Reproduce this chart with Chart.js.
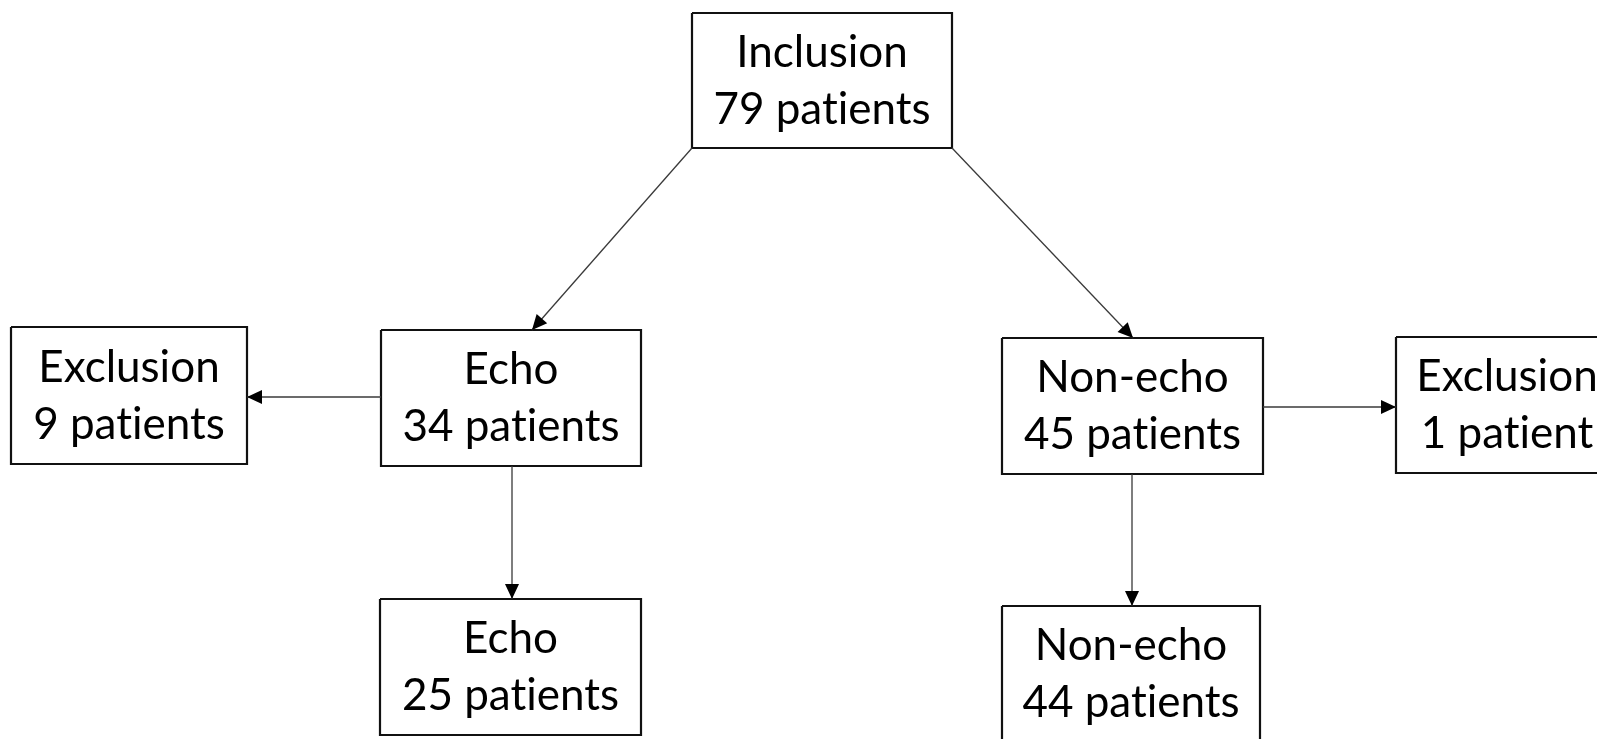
<!DOCTYPE html>
<html>
<head>
<meta charset="utf-8">
<script src="https://cdn.jsdelivr.net/npm/chart.js@4"></script>
<style>
  html, body { margin: 0; padding: 0; background: #fff; }
  #wrap { width: 1597px; height: 739px; position: relative; }
</style>
</head>
<body>
<div id="wrap"><canvas id="flow"></canvas></div>
<script>
// 박스 내용 (flow 단계, 환자 수)
const nodeNames = ['Inclusion', 'Echo', 'Non-echo', 'Exclusion', 'Exclusion', 'Echo', 'Non-echo'];
const nodeCounts = [79, 34, 45, 9, 1, 25, 44];

// 박스 배치 (좌표 단위 = 축 단위, 0..1597 x 0..739)
const boxLeft = [692, 381, 1002, 11, 1396, 380, 1002];
const boxRight = [952, 641, 1263, 247, 1618, 641, 1260];
const boxTop = [13, 330, 338, 327, 337, 599, 606];
const boxBottom = [148, 466, 474, 464, 473, 735, 742];

// 화살표 (시작점 -> 끝점)
const arrowFrom = [[692, 148], [952, 148], [381, 397], [1263, 407], [512, 466], [1132, 474]];
const arrowTo = [[532, 330], [1133, 338], [247, 397], [1396, 407], [512, 599], [1132, 606]];

function nodeText(i) {
  const n = nodeCounts[i];
  // ZWNJ로 "ti" 합자 막기
  return [nodeNames[i], n + (n === 1 ? ' pat\u200Cient' : ' pat\u200Cients')];
}

const datasets = [];
for (let i = 0; i < arrowFrom.length; i++) {
  datasets.push({
    label: 'arrow' + i,
    data: [{ x: arrowFrom[i][0], y: arrowFrom[i][1] }, { x: arrowTo[i][0], y: arrowTo[i][1] }],
    showLine: true,
    borderColor: '#3a3a3a',
    borderWidth: 1.3,
    pointRadius: 0,
    arrow: true,
  });
}
for (let i = 0; i < nodeNames.length; i++) {
  const l = boxLeft[i], r = boxRight[i], t = boxTop[i], b = boxBottom[i];
  datasets.push({
    label: 'box' + i,
    data: [{ x: l, y: t }, { x: r, y: t }, { x: r, y: b }, { x: l, y: b }, { x: l, y: t }],
    showLine: true,
    borderColor: '#111',
    borderWidth: 2.2,
    pointRadius: 0,
    borderJoinStyle: 'miter',
    node: i,
  });
}

const FONT = 'Lato, "Open Sans", sans-serif';

const flowPlugin = {
  id: 'flowPlugin',
  afterDatasetsDraw(chart) {
    const ctx = chart.ctx;
    const xs = chart.scales.x, ys = chart.scales.y;
    ctx.save();
    // 화살촉
    chart.data.datasets.forEach((ds) => {
      if (!ds.arrow) return;
      const p0 = ds.data[0], p1 = ds.data[1];
      const x0 = xs.getPixelForValue(p0.x), y0 = ys.getPixelForValue(p0.y);
      const x1 = xs.getPixelForValue(p1.x), y1 = ys.getPixelForValue(p1.y);
      const a = Math.atan2(y1 - y0, x1 - x0);
      const len = 15, half = 7;
      ctx.fillStyle = '#000';
      ctx.beginPath();
      ctx.moveTo(x1, y1);
      ctx.lineTo(x1 - len * Math.cos(a) + half * Math.sin(a), y1 - len * Math.sin(a) - half * Math.cos(a));
      ctx.lineTo(x1 - len * Math.cos(a) - half * Math.sin(a), y1 - len * Math.sin(a) + half * Math.cos(a));
      ctx.closePath();
      ctx.fill();
    });
    // 글자 크기: "79 patients" 폭이 약 217px 되도록
    ctx.font = '100px ' + FONT;
    const w = ctx.measureText('79 pat\u200Cients').width;
    const size = Math.round(100 * 217 / w);
    ctx.font = size + 'px ' + FONT;
    ctx.fillStyle = '#000';
    ctx.textAlign = 'center';
    ctx.textBaseline = 'alphabetic';
    chart.data.datasets.forEach((ds) => {
      if (ds.node === undefined) return;
      const i = ds.node;
      const cx = xs.getPixelForValue((boxLeft[i] + boxRight[i]) / 2);
      const cy = ys.getPixelForValue((boxTop[i] + boxBottom[i]) / 2);
      const lines = nodeText(i);
      ctx.fillText(lines[0], cx, cy - 14);
      ctx.fillText(lines[1], cx, cy + 43);
    });
    ctx.restore();
  },
};

new Chart(document.getElementById('flow'), {
  type: 'scatter',
  data: { datasets: datasets },
  options: {
    responsive: true,
    maintainAspectRatio: false,
    animation: false,
    events: [],
    layout: { padding: 0 },
    plugins: { legend: { display: false }, tooltip: { enabled: false } },
    scales: {
      x: { type: 'linear', min: 0, max: 1597, display: false },
      y: { type: 'linear', min: 0, max: 739, reverse: true, display: false },
    },
  },
  plugins: [flowPlugin],
});
</script>
</body>
</html>
